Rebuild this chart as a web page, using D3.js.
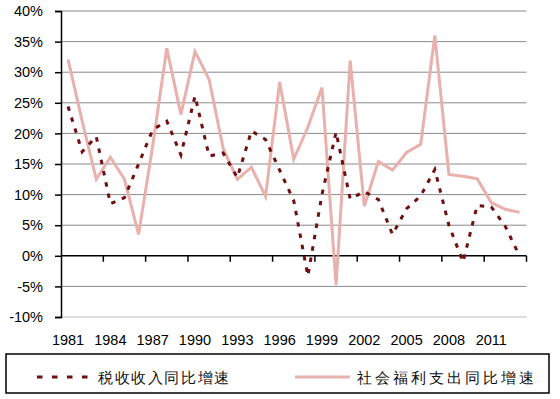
<!DOCTYPE html>
<html>
<head>
<meta charset="utf-8">
<script src="https://cdn.jsdelivr.net/npm/d3@7"></script>
<style>
  html, body { margin: 0; padding: 0; background: #fff; }
  svg { display: block; }
  text { font-family: "Liberation Sans", Arial, sans-serif; }
</style>
</head>
<body>
<script>
const years = d3.range(1981, 2014);
const taxGrowth = [24.4, 17.0, 19.5, 8.5, 9.5, 15.0, 20.6, 22.0, 16.5, 26.1, 16.3, 16.8, 12.8, 20.4, 19.0, 14.0, 9.0, -3.3, 10.0, 20.2, 9.3, 10.5, 9.2, 3.5, 7.7, 9.8, 14.1, 5.0, -1.0, 8.2, 8.0, 4.8, 0.0];
const welfareGrowth = [32.1, 22.0, 12.5, 16.1, 12.5, 3.5, 18.0, 33.9, 23.1, 33.4, 28.8, 17.5, 12.5, 14.5, 9.7, 28.4, 15.8, 21.0, 27.5, -4.8, 31.9, 8.1, 15.4, 14.0, 16.9, 18.2, 36.0, 13.3, 13.0, 12.6, 8.7, 7.6, 7.1];
const yTicks = [-10, -5, 0, 5, 10, 15, 20, 25, 30, 35, 40];
const xLabelYears = [1981, 1984, 1987, 1990, 1993, 1996, 1999, 2002, 2005, 2008, 2011];
const seriesNames = ["税收收入同比增速", "社会福利支出同比增速"];

const W = 560, H = 399;
const pLeft = 61, pRight = 526.5, pTop = 11, pBottom = 317;

const svg = d3.select("body").append("svg").attr("width", W).attr("height", H);

const x = d3.scaleBand().domain(years).range([pLeft, pRight]).padding(0);
const y = d3.scaleLinear().domain([-10, 40]).range([pBottom, pTop]);
const cx = d => x(d) + x.bandwidth() / 2;

// gridlines
svg.append("g").selectAll("line").data(yTicks.filter(t => t !== 0)).join("line")
  .attr("x1", pLeft).attr("x2", pRight)
  .attr("y1", d => y(d)).attr("y2", d => y(d))
  .attr("stroke", d => d === -10 ? "#bdbdbd" : "#8a8a8a").attr("stroke-width", 1);

// y axis
const yAxis = svg.append("g").attr("transform", `translate(${pLeft},0)`)
  .call(d3.axisLeft(y).tickValues(yTicks).tickFormat(d => d + "%").tickSize(6).tickPadding(12));
yAxis.select(".domain").attr("stroke", "#000").attr("stroke-width", 1.5);
yAxis.selectAll(".tick line").attr("stroke", "#000").attr("stroke-width", 1.5);
yAxis.selectAll("text").attr("font-size", 14.5).attr("fill", "#000")
  .attr("font-family", "'Liberation Sans', Arial, sans-serif");

// x axis at 0
const tickPositions = d3.range(0, years.length + 1, 3).map(i => pLeft + i * x.bandwidth());
const xg = svg.append("g");
xg.append("line").attr("x1", pLeft).attr("x2", pRight).attr("y1", y(0)).attr("y2", y(0))
  .attr("stroke", "#000").attr("stroke-width", 1.5);
xg.selectAll("line.tk").data(tickPositions.slice(1)).join("line").attr("class", "tk")
  .attr("x1", d => d).attr("x2", d => d).attr("y1", y(0)).attr("y2", y(0) + 6)
  .attr("stroke", "#000").attr("stroke-width", 1.5);
svg.append("g").selectAll("text").data(xLabelYears).join("text")
  .attr("x", d => cx(d)).attr("y", 345)
  .attr("text-anchor", "middle").attr("font-size", 14.5).attr("fill", "#000")
  .text(d => d);

// lines
const line = d3.line().x((d, i) => cx(years[i])).y(d => y(d));
svg.append("path").datum(welfareGrowth).attr("d", line)
  .attr("fill", "none").attr("stroke", "#e8b1ad").attr("stroke-width", 3)
  .attr("stroke-linejoin", "miter");
svg.append("path").datum(taxGrowth).attr("d", line)
  .attr("fill", "none").attr("stroke", "#6e0f12").attr("stroke-width", 3)
  .attr("stroke-dasharray", "4.5,7");

// legend
svg.append("rect").attr("x", 6).attr("y", 354).attr("width", 543).attr("height", 39)
  .attr("fill", "#fff").attr("stroke", "#000").attr("stroke-width", 1.5);
const legY = 377;
svg.append("line").attr("x1", 37).attr("x2", 96).attr("y1", legY).attr("y2", legY)
  .attr("stroke", "#6e0f12").attr("stroke-width", 3).attr("stroke-dasharray", "5.5,9.5");
svg.append("text").attr("x", 98).attr("y", legY + 5.5).attr("font-size", 15)
  .attr("letter-spacing", 1.6)
  .attr("font-family", "'Noto Sans CJK SC', sans-serif").attr("fill", "#111")
  .text(seriesNames[0]);
svg.append("line").attr("x1", 295).attr("x2", 350).attr("y1", legY).attr("y2", legY)
  .attr("stroke", "#e8b1ad").attr("stroke-width", 3);
svg.append("text").attr("x", 357).attr("y", legY + 5.5).attr("font-size", 15)
  .attr("letter-spacing", 3)
  .attr("font-family", "'Noto Sans CJK SC', sans-serif").attr("fill", "#111")
  .text(seriesNames[1]);
</script>
</body>
</html>
